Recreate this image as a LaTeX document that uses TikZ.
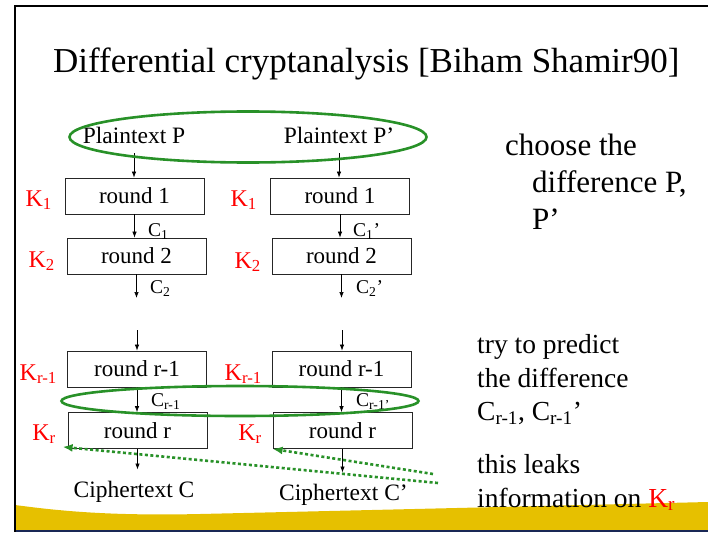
\documentclass[tikz,border=0pt]{standalone}
\usepackage{fontspec}
\setmainfont{Liberation Serif}
\usepackage{tikz}
\usetikzlibrary{arrows.meta,positioning,shapes.geometric}
\definecolor{slidegreen}{RGB}{40,145,40}
\definecolor{slidegold}{RGB}{230,192,0}
\definecolor{slidenavy}{RGB}{25,40,85}
\tikzset{
  round-box/.style={draw=black!85, line width=0.8pt, minimum width=139pt, minimum height=36pt,
    inner sep=0pt, font=\fontsize{23}{27}\selectfont},
  key-label/.style={text=red, inner sep=0pt, anchor=base east, font=\fontsize{24}{28}\selectfont},
  diff-label/.style={inner sep=0pt, anchor=base west, font=\fontsize{19.5}{23}\selectfont},
  end-text/.style={inner sep=0pt, anchor=base, font=\fontsize{23.5}{28}\selectfont},
  pair-ring/.style={draw=slidegreen, line width=2.6pt, ellipse, inner sep=0pt},
  leak-arrow/.style={draw=slidegreen, line width=2.6pt, dash pattern=on 3pt off 2.5pt,
    -{Latex[length=10pt,width=8pt]}},
  flow/.style={-{Latex[length=6pt,width=4.5pt]}, line width=0.7pt},
  big-note/.style={inner sep=0pt, anchor=base west, font=\fontsize{31}{37}\selectfont},
  mid-note/.style={inner sep=0pt, anchor=base west, font=\fontsize{27.5}{33}\selectfont}
}
\begin{document}
\begin{tikzpicture}[x=1pt, y=-1pt]
  \useasboundingbox (0,0) rectangle (708,532);
  % slide frame and bottom band
  \fill[slidegold] (15,505) .. controls (60,511) and (110,516) .. (200,514)
    .. controls (330,511) and (500,507) .. (708,502) -- (708,531) -- (15,531) -- cycle;
  \draw[slidenavy, line width=1.6pt] (15,531) -- (708,531);
  \draw[line width=2pt] (708,6) -- (15,6) -- (15,532);

  \node[anchor=base west, inner sep=0pt, font=\fontsize{35}{40}\selectfont] (title) at (53,73)
    {Differential cryptanalysis [Biham Shamir90]};

  \node[end-text] (plainL) at (134,143) {Plaintext P};
  \node[end-text] (plainR) at (339,143) {Plaintext P'};
  \foreach \name/\x/\y/\txt in {r1L/134.5/196/round 1, r2L/136.5/256/round 2, rm1L/137/369/round r-1, rmL/137.5/430.5/round r,
      r1R/340/196/round 1, r2R/341.5/256/round 2, rm1R/341.5/369/round r-1, rmR/342.5/430.5/round r} {
    \node[round-box] (\name) at (\x,\y) {\txt};
  }
  \node[end-text] (cipherL) at (134,497) {Ciphertext C};
  \node[end-text] (cipherR) at (343.5,500) {Ciphertext C'};

  \foreach \name/\x/\y/\sub in {k1L/52/206/1, k2L/55/267/2, km1L/57/380/r-1, kmL/56/440/r,
      k1R/257/206/1, k2R/261/268/2, km1R/262/380/r-1, kmR/262/440/r} {
    \node[key-label] (\name) at (\x,\y) {K\textsubscript{\sub}};
  }

  \coordinate (gapTopL) at (138,298);
  \coordinate (gapBotL) at (137,330);
  \coordinate (gapTopR) at (343,298);
  \coordinate (gapBotR) at (342,330);

  \draw[flow, shorten <=10pt] (plainL.south) -- (plainL.south |- r1L.north);
  \draw[flow] (r1L.south) -- (r1L.south |- r2L.north);
  \draw[flow] (r2L.south) -- (r2L.south |- gapTopL);
  \draw[flow] (gapBotL) -- (gapBotL |- rm1L.north);
  \draw[flow] (rm1L.south) -- (rm1L.south |- rmL.north);
  \draw[flow, shorten >=11pt] (rmL.south) -- (rmL.south |- cipherL.north);
  \draw[flow, shorten <=10pt] (plainR.south) -- (plainR.south |- r1R.north);
  \draw[flow] (r1R.south) -- (r1R.south |- r2R.north);
  \draw[flow] (r2R.south) -- (r2R.south |- gapTopR);
  \draw[flow] (gapBotR) -- (gapBotR |- rm1R.north);
  \draw[flow] (rm1R.south) -- (rm1R.south |- rmR.north);
  \draw[flow, shorten >=11pt] (rmR.south) -- (rmR.south |- cipherR.north);

  \node[diff-label] (d1L) at (148,236) {C\textsubscript{1}};
  \node[diff-label] (d2L) at (150,293) {C\textsubscript{2}};
  \node[diff-label] (dm1L) at (151,406) {C\textsubscript{r-1}};
  \node[diff-label] (d1R) at (353,236) {C\textsubscript{1}'};
  \node[diff-label] (d2R) at (356,293) {C\textsubscript{2}'};
  \node[diff-label] (dm1R) at (356,406) {C\textsubscript{r-1'}};

  \node[pair-ring, minimum width=357pt, minimum height=51pt] (pairP) at (248,137) {};
  \node[pair-ring, minimum width=357pt, minimum height=30pt] (pairC) at (240,401) {};

  \coordinate (leakTailA) at (438,483);
  \coordinate (leakTailB) at (433,474);
  \draw[leak-arrow] (leakTailA) -- ([xshift=-5pt, yshift=2pt]rmL.south west);
  \draw[leak-arrow] (leakTailB) -- (rmR.south west);

  \node[big-note] (choose1) at (505,155) {choose the};
  \node[big-note] (choose2) at (532,192) {difference P,};
  \node[big-note] (choose3) at (532,229) {P'};
  \node[mid-note] (predict1) at (477,353) {try to predict};
  \node[mid-note] (predict2) at (477,387) {the difference};
  \node[mid-note] (predict3) at (477,420) {C\textsubscript{r-1}, C\textsubscript{r-1}'};
  \node[mid-note] (leak1) at (477,473) {this leaks};
  \node[mid-note] (leak2) at (477,507) {information on \textcolor{red}{K\textsubscript{r}}};
\end{tikzpicture}
\end{document}
